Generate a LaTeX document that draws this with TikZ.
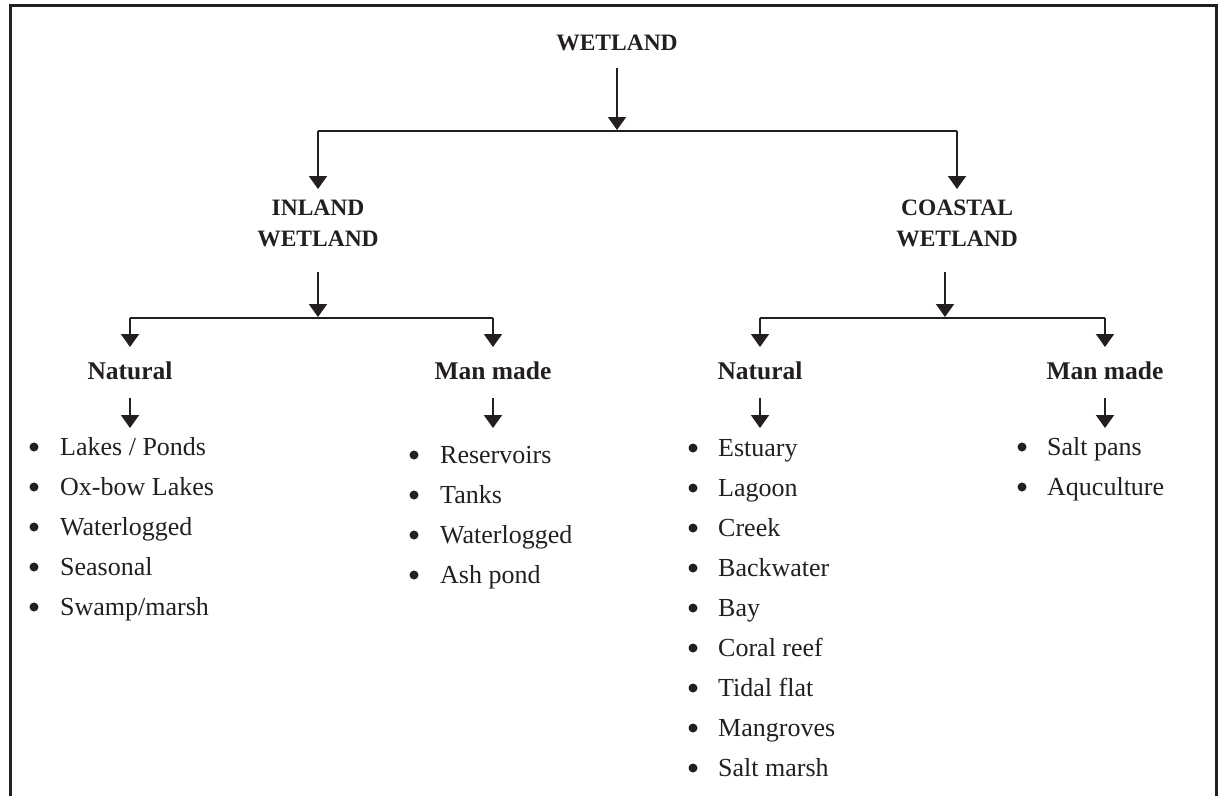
\documentclass[tikz,border=0pt]{standalone}
\usepackage{fontspec}
\setmainfont{Liberation Serif}
\usetikzlibrary{arrows.meta}
\definecolor{ink}{HTML}{231F20}
\begin{document}
\begin{tikzpicture}[x=1pt,y=-1pt,
  arr/.style={draw=ink, line width=2pt, -{Triangle[width=18pt,length=13pt]}},
  bus/.style={draw=ink, line width=2pt},
  headtxt/.style={font=\fontsize{23.5}{31}\selectfont\bfseries, text=ink, inner sep=0pt, align=center},
  subtxt/.style={font=\fontsize{25.5}{30}\selectfont\bfseries, text=ink, inner sep=0pt, anchor=base},
  itemtxt/.style={font=\fontsize{26}{30}\selectfont, text=ink, inner sep=0pt, anchor=base west},
  dotmark/.style={circle, fill=ink, inner sep=0pt, minimum size=9pt}]
\useasboundingbox (0,0) rectangle (1218,796);
\draw[ink, line width=3pt] (10,796) -- (10,5) -- (1216,5) -- (1216,796);

% headings
\node[headtxt, anchor=base] (wet) at (617,50) {WETLAND};
\node[headtxt, anchor=north] (inl) at (318,199.5) {INLAND\\WETLAND};
\node[headtxt, anchor=north] (coa) at (957,199.5) {COASTAL\\WETLAND};
\node[subtxt] (inat) at (130,379) {Natural};
\node[subtxt] (iman) at (493,379) {Man made};
\node[subtxt] (cnat) at (760,379) {Natural};
\node[subtxt] (cman) at (1105,379) {Man made};

% junction coordinates
\coordinate (w0) at (617,68);
\coordinate (j0) at (617,130);
\coordinate (bl) at (318,131);
\coordinate (br) at (957,131);
\coordinate (il0) at (318,189);
\coordinate (cr0) at (957,189);
\coordinate (i1) at (318,272);
\coordinate (i2) at (318,317);
\coordinate (ibl) at (130,318);
\coordinate (ibr) at (493,318);
\coordinate (c1) at (945,272);
\coordinate (c2) at (945,317);
\coordinate (cbl) at (760,318);
\coordinate (cbr) at (1105,318);

\draw[arr] (w0) -- (j0);
\draw[bus] (bl) -- (br);
\draw[arr] (bl) -- (il0);
\draw[arr] (br) -- (cr0);

\draw[arr] (i1) -- (i2);
\draw[bus] (ibl) -- (ibr);
\draw[arr] (ibl) -- (130,347);
\draw[arr] (ibr) -- (493,347);

\draw[arr] (c1) -- (c2);
\draw[bus] (cbl) -- (cbr);
\draw[arr] (cbl) -- (760,347);
\draw[arr] (cbr) -- (1105,347);

\foreach \x/\n in {130/a,493/b,760/c,1105/d}{
  \coordinate (s\n) at (\x,398);
  \coordinate (e\n) at (\x,428);
  \draw[arr] (s\n) -- (e\n);
}

% lists
\foreach \t [count=\k from 0] in {Lakes / Ponds,Ox-bow Lakes,Waterlogged,Seasonal,Swamp/marsh}{
  \node[dotmark] (la\k) at (34,{447+40*\k}) {};
  \node[itemtxt] (lt\k) at (60,{455+40*\k}) {\t};
}
\foreach \t [count=\k from 0] in {Reservoirs,Tanks,Waterlogged,Ash pond}{
  \node[dotmark] (ma\k) at (414,{455+40*\k}) {};
  \node[itemtxt] (mt\k) at (440,{463+40*\k}) {\t};
}
\foreach \t [count=\k from 0] in {Estuary,Lagoon,Creek,Backwater,Bay,Coral reef,Tidal flat,Mangroves,Salt marsh}{
  \node[dotmark] (ca\k) at (693,{448+40*\k}) {};
  \node[itemtxt] (ct\k) at (718,{456+40*\k}) {\t};
}
\foreach \t [count=\k from 0] in {Salt pans,Aquculture}{
  \node[dotmark] (da\k) at (1022,{447+40*\k}) {};
  \node[itemtxt] (dt\k) at (1047,{455+40*\k}) {\t};
}
\end{tikzpicture}
\end{document}
